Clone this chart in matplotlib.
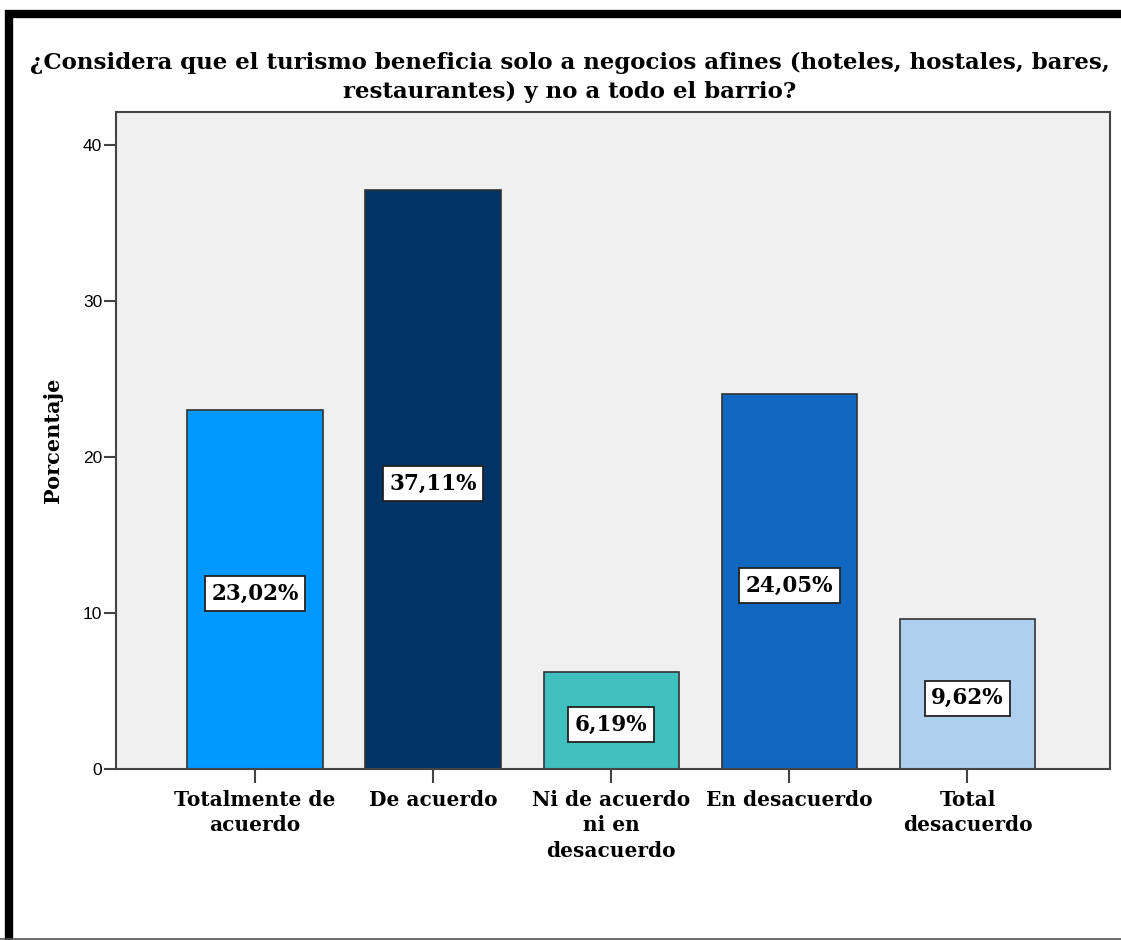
import matplotlib
matplotlib.use("Agg")
import matplotlib.pyplot as plt
from matplotlib.lines import Line2D

categories = ["Totalmente de\nacuerdo", "De acuerdo", "Ni de acuerdo\nni en\ndesacuerdo",
              "En desacuerdo", "Total\ndesacuerdo"]
values = [23.02, 37.11, 6.19, 24.05, 9.62]
labels = ["23,02%", "37,11%", "6,19%", "24,05%", "9,62%"]
colors = ["#0099ff", "#003366", "#40bfbf", "#1166c0", "#acd0ee"]
title = ("¿Considera que el turismo beneficia solo a negocios afines (hoteles, hostales, bares,\n"
         "restaurantes) y no a todo el barrio?")

SERIF = "DejaVu Serif"
W, H = 1121, 940
fig = plt.figure(figsize=(W / 100, H / 100), dpi=100)
ax = fig.add_axes([116 / W, 1 - 769 / H, (1110 - 116) / W, (769 - 112) / H])
ax.set_facecolor("#f0f0f0")

x = range(len(values))
ax.bar(x, values, width=0.76, color=colors, edgecolor="#333333", linewidth=1.2, zorder=2)
for xi, v, lab in zip(x, values, labels):
    ax.annotate(lab, (xi, v / 2), xytext=(0, -3), textcoords="offset points",
                ha="center", va="center", fontsize=15.5, fontweight="bold",
                family=SERIF, zorder=3,
                bbox=dict(boxstyle="square,pad=0.3", facecolor="white", edgecolor="#222222",
                          linewidth=1.3))

ax.set_xlim(-0.78, 4.80)
ax.set_ylim(0, 42.1)
ax.set_yticks([0, 10, 20, 30, 40])
ax.set_xticks(list(x))
ax.set_xticklabels(categories, fontsize=14.5, fontweight="bold", family=SERIF,
                   linespacing=1.35, va="top")
for t in ax.get_yticklabels():
    t.set_family("Liberation Sans")
    t.set_fontsize(12.5)
ax.tick_params(axis="y", length=9, width=1.5, color="#444444", pad=1)
ax.tick_params(axis="x", length=10, width=1.5, color="#444444", pad=5)
for s in ax.spines.values():
    s.set_color("#444444")
    s.set_linewidth(1.5)
ax.set_ylabel("Porcentaje", fontsize=15, fontweight="bold", family=SERIF, labelpad=14)

fig.text(570 / W, 1 - 77 / H, title, ha="center", va="center", fontsize=16.5, fontweight="bold",
         family=SERIF, linespacing=1.4)

# frame around the chart
fig.add_artist(Line2D([5 / W, 1], [1 - 14 / H, 1 - 14 / H], color="black", linewidth=6,
                      solid_capstyle="butt"))
fig.add_artist(Line2D([9 / W, 9 / W], [0, 1 - 10 / H], color="black", linewidth=6,
                      solid_capstyle="butt"))
fig.add_artist(Line2D([0, 1], [1.5 / H, 1.5 / H], color="#555555", linewidth=1.2))

fig.savefig("out.png", dpi=100)
